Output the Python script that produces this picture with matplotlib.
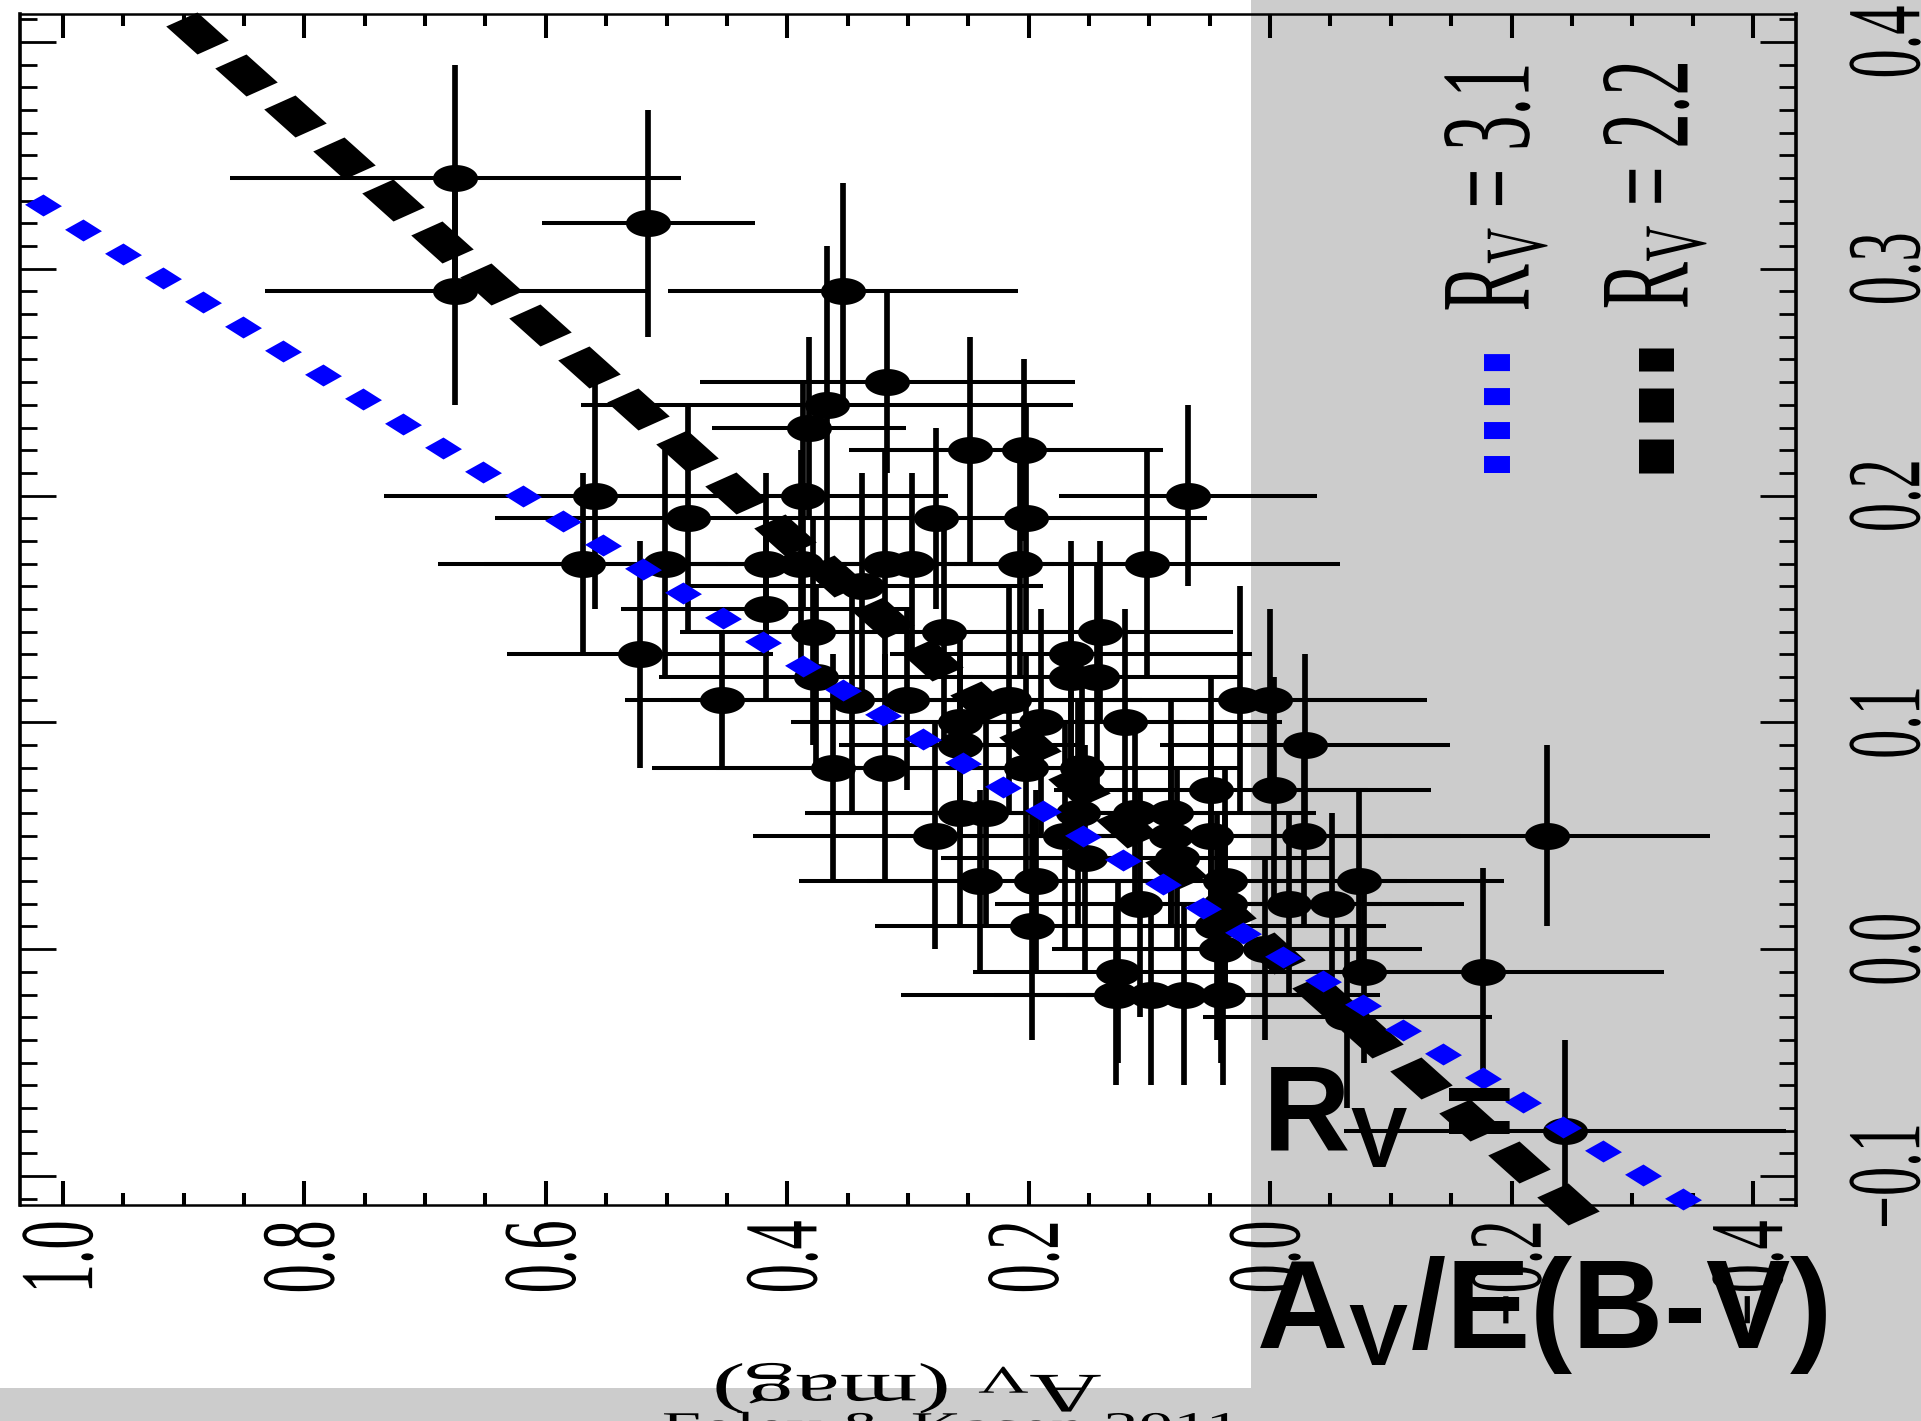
import matplotlib
matplotlib.use('Agg')
import matplotlib.pyplot as plt
import numpy as np
from matplotlib.patches import Rectangle
from matplotlib.patheffects import AbstractPathEffect
from matplotlib.transforms import Affine2D
from matplotlib.ticker import MultipleLocator

plt.rcParams['font.family'] = ['Liberation Serif', 'DejaVu Serif']
plt.rcParams['mathtext.fontset'] = 'custom'
plt.rcParams['mathtext.rm'] = 'Liberation Serif'
plt.rcParams['mathtext.it'] = 'Liberation Serif:italic'
plt.rcParams['mathtext.bf'] = 'Liberation Sans:bold'

# A_V, E(B-V) and their 1-sigma errors, one entry per SN
av = np.array([0.675, 0.675, 0.515, 0.354, 0.317, 0.367, 0.382, 0.249, 0.204, 0.559,
               0.387, 0.068, 0.482, 0.277, 0.202, 0.569, 0.501, 0.418, 0.389, 0.319,
               0.297, 0.207, 0.102, 0.338, 0.418, 0.379, 0.270, 0.141, 0.522, 0.165,
               0.376, 0.165, 0.143, 0.454, 0.346, 0.301, 0.216, 0.025, 0.000, 0.257,
               0.190, 0.120, 0.257, -0.029, 0.362, 0.319, 0.202, 0.156, 0.049, -0.003,
               0.257, 0.235, 0.159, 0.112, 0.082, 0.278, 0.170, 0.082, 0.049, -0.028,
               -0.229, 0.153, 0.077, 0.240, 0.194, 0.037, -0.074, 0.108, 0.037, -0.016,
               -0.051, 0.197, 0.044, 0.041, 0.004, 0.126, -0.078, -0.176, 0.128, 0.099,
               0.071, 0.039, -0.064, -0.244])
ebv = np.array([0.340, 0.290, 0.320, 0.290, 0.250, 0.240, 0.230, 0.220, 0.220, 0.200,
                0.200, 0.200, 0.190, 0.190, 0.190, 0.170, 0.170, 0.170, 0.170, 0.170,
                0.170, 0.170, 0.170, 0.160, 0.150, 0.140, 0.140, 0.140, 0.130, 0.130,
                0.120, 0.120, 0.120, 0.110, 0.110, 0.110, 0.110, 0.110, 0.110, 0.100,
                0.100, 0.100, 0.090, 0.090, 0.080, 0.080, 0.080, 0.080, 0.070, 0.070,
                0.060, 0.060, 0.060, 0.060, 0.060, 0.050, 0.050, 0.050, 0.050, 0.050,
                0.050, 0.040, 0.040, 0.030, 0.030, 0.030, 0.030, 0.020, 0.020, 0.020,
                0.020, 0.010, 0.010, 0.000, 0.000, -0.010, -0.010, -0.010, -0.020, -0.020,
                -0.020, -0.020, -0.030, -0.080])
av_err = np.array([0.187, 0.158, 0.088, 0.145, 0.155, 0.204, 0.080, 0.100, 0.115, 0.175,
                   0.120, 0.107, 0.160, 0.120, 0.150, 0.120, 0.150, 0.100, 0.130, 0.140,
                   0.110, 0.120, 0.160, 0.150, 0.120, 0.110, 0.170, 0.110, 0.110, 0.150,
                   0.130, 0.130, 0.120, 0.080, 0.150, 0.150, 0.110, 0.150, 0.130, 0.140,
                   0.120, 0.130, 0.100, 0.120, 0.150, 0.140, 0.140, 0.130, 0.130, 0.130,
                   0.120, 0.150, 0.130, 0.110, 0.120, 0.150, 0.140, 0.130, 0.150, 0.130,
                   0.135, 0.120, 0.130, 0.150, 0.140, 0.150, 0.120, 0.120, 0.130, 0.120,
                   0.110, 0.130, 0.140, 0.140, 0.130, 0.120, 0.120, 0.150, 0.178, 0.130,
                   0.130, 0.130, 0.120, 0.183])
ebv_err = np.array([0.050, 0.050, 0.050, 0.048, 0.040, 0.070, 0.040, 0.050, 0.040, 0.050,
                    0.050, 0.040, 0.050, 0.040, 0.050, 0.040, 0.050, 0.040, 0.050, 0.050,
                    0.040, 0.050, 0.050, 0.050, 0.040, 0.050, 0.050, 0.040, 0.050, 0.050,
                    0.040, 0.050, 0.050, 0.030, 0.050, 0.040, 0.050, 0.050, 0.040, 0.040,
                    0.050, 0.050, 0.040, 0.040, 0.050, 0.050, 0.050, 0.040, 0.050, 0.050,
                    0.050, 0.050, 0.050, 0.040, 0.050, 0.050, 0.050, 0.040, 0.050, 0.040,
                    0.040, 0.050, 0.040, 0.040, 0.040, 0.050, 0.040, 0.050, 0.040, 0.040,
                    0.040, 0.050, 0.050, 0.050, 0.040, 0.040, 0.040, 0.046, 0.040, 0.040,
                    0.040, 0.040, 0.040, 0.040])

# extinction laws E(B-V) = A_V / R_V
rv_dotted = 3.1
rv_dashed = 2.2
dot_av = np.linspace(1.0166, -0.342, 42)
dash_av = np.linspace(0.889, -0.247, 29)

x_ticks = [1.0, 0.8, 0.6, 0.4, 0.2, 0.0, -0.2, -0.4]
y_ticks = [-0.1, 0.0, 0.1, 0.2, 0.3, 0.4]


class Widen(AbstractPathEffect):
    """Stretch a path horizontally about the centre of its own extent."""

    def __init__(self, sx=1.8):
        super().__init__()
        self._sx = sx

    def draw_path(self, renderer, gc, tpath, affine, rgbFace=None):
        box = tpath.get_extents(affine)
        cx = 0.5 * (box.x0 + box.x1)
        stretch = Affine2D().translate(-cx, 0).scale(self._sx, 1.0).translate(cx, 0)
        renderer.draw_path(gc, tpath, affine + stretch, rgbFace)


wide = [Widen(1.8)]

# marker shapes
t = np.linspace(0, 2 * np.pi, 60)
ellipse = np.column_stack([np.cos(t), 0.6 * np.sin(t)])
dash_shape = [(-29, 6.5), (0, 19.5), (29, -6.5), (0, -19.5), (-29, 6.5)]
dot_shape = [(-18.5, 0.7), (0, 11), (18.5, -0.7), (0, -11), (-18.5, 0.7)]

fig = plt.figure(figsize=(19.21, 14.21), dpi=100)
grey = '#cccccc'
fig.add_artist(Rectangle((0.6512, 0), 0.3488, 1, transform=fig.transFigure,
                         facecolor=grey, edgecolor='none', zorder=-5))
fig.add_artist(Rectangle((0, 0), 0.6512, 0.0232, transform=fig.transFigure,
                         facecolor=grey, edgecolor='none', zorder=-5))

ax = fig.add_axes([0.0104, 0.152, 0.9245, 0.8381])
ax.set_facecolor('none')

ax.errorbar(av, ebv, xerr=av_err, fmt='none', ecolor='k', elinewidth=2.9, capsize=0, zorder=2)
ax.errorbar(av, ebv, yerr=ebv_err, fmt='none', ecolor='k', elinewidth=4.1, capsize=0, zorder=2)
ax.plot(av, ebv, ls='none', marker=ellipse, ms=32.4, mfc='k', mec='k', mew=0, zorder=3)

ax.plot(dash_av, dash_av / rv_dashed, ls='none', marker=dash_shape, ms=45,
        color='k', mew=0, clip_on=False, zorder=4)
ax.plot(dot_av, dot_av / rv_dotted, ls='none', marker=dot_shape, ms=26.6,
        color='blue', mew=0, clip_on=False, zorder=5)

ax.set_xlim(1.0356, -0.4356)
ax.set_ylim(-0.1128, 0.4123)
ax.set_xticks(x_ticks)
ax.set_yticks(y_ticks)
ax.xaxis.set_minor_locator(MultipleLocator(0.05))
ax.yaxis.set_minor_locator(MultipleLocator(0.01))

for side in ['left', 'right']:
    ax.spines[side].set_linewidth(2.6)
for side in ['top', 'bottom']:
    ax.spines[side].set_linewidth(1.8)

ax.tick_params(axis='x', which='both', direction='in', top=True, bottom=True, width=2.9)
ax.tick_params(axis='x', which='major', length=17.3, labelsize=42, labelrotation=90, pad=11)
ax.tick_params(axis='x', which='minor', length=8.6)
ax.tick_params(axis='y', which='both', direction='in', left=True, right=True,
               labelleft=False, labelright=False, width=2.0)
ax.tick_params(axis='y', which='major', length=25.9)
ax.tick_params(axis='y', which='minor', length=12.2)

for tick in ax.xaxis.get_major_ticks():
    tick.label1.set_path_effects(wide)

# E(B-V) labels sit outside the right spine, turned on their side
for v in y_ticks:
    ax.text(1.053, v, f'{v:.1f}'.replace('-', '\u2212'), transform=ax.get_yaxis_transform(),
            rotation=90, ha='center', va='center', fontsize=42, path_effects=wide,
            clip_on=False)

ax.set_xlabel(r'A$_{\rm V}$ (mag)', fontsize=40, rotation=180)
ax.xaxis.set_label_coords(0.5, -0.1537)
ax.xaxis.label.set_va('center')
ax.xaxis.label.set_path_effects(wide)

# legend, drawn upright along the right-hand side
ax.plot([0.8317, 0.8317], [0.6146, 0.7145], transform=ax.transAxes, color='blue',
        lw=18.7, dashes=(0.654, 0.654), dash_capstyle='butt', clip_on=False)
ax.plot([0.9212, 0.9212], [0.6146, 0.7196], transform=ax.transAxes, color='k',
        lw=25.2, dashes=(0.971, 0.486), dash_capstyle='butt', clip_on=False)
ax.text(0.8317, 0.854, r'R$_{\rm V}$ = 3.1', transform=ax.transAxes, rotation=90,
        ha='center', va='center', fontsize=51, path_effects=wide)
ax.text(0.9212, 0.856, r'R$_{\rm V}$ = 2.2', transform=ax.transAxes, rotation=90,
        ha='center', va='center', fontsize=51, path_effects=wide)

fig.text(0.495, -0.0125, 'Foley & Kasen 2011', fontsize=28, ha='center', va='baseline',
         path_effects=wide)

fig.text(0.657, 0.190, r'R$_\mathbf{V}$ =', fontsize=87, fontweight='bold',
         family='Liberation Sans', va='baseline')
fig.text(0.6538, 0.0514, r'A$_\mathbf{V}$/E(B-V)', fontsize=91, fontweight='bold',
         family='Liberation Sans', va='baseline')

fig.savefig('out.png', dpi=100)
